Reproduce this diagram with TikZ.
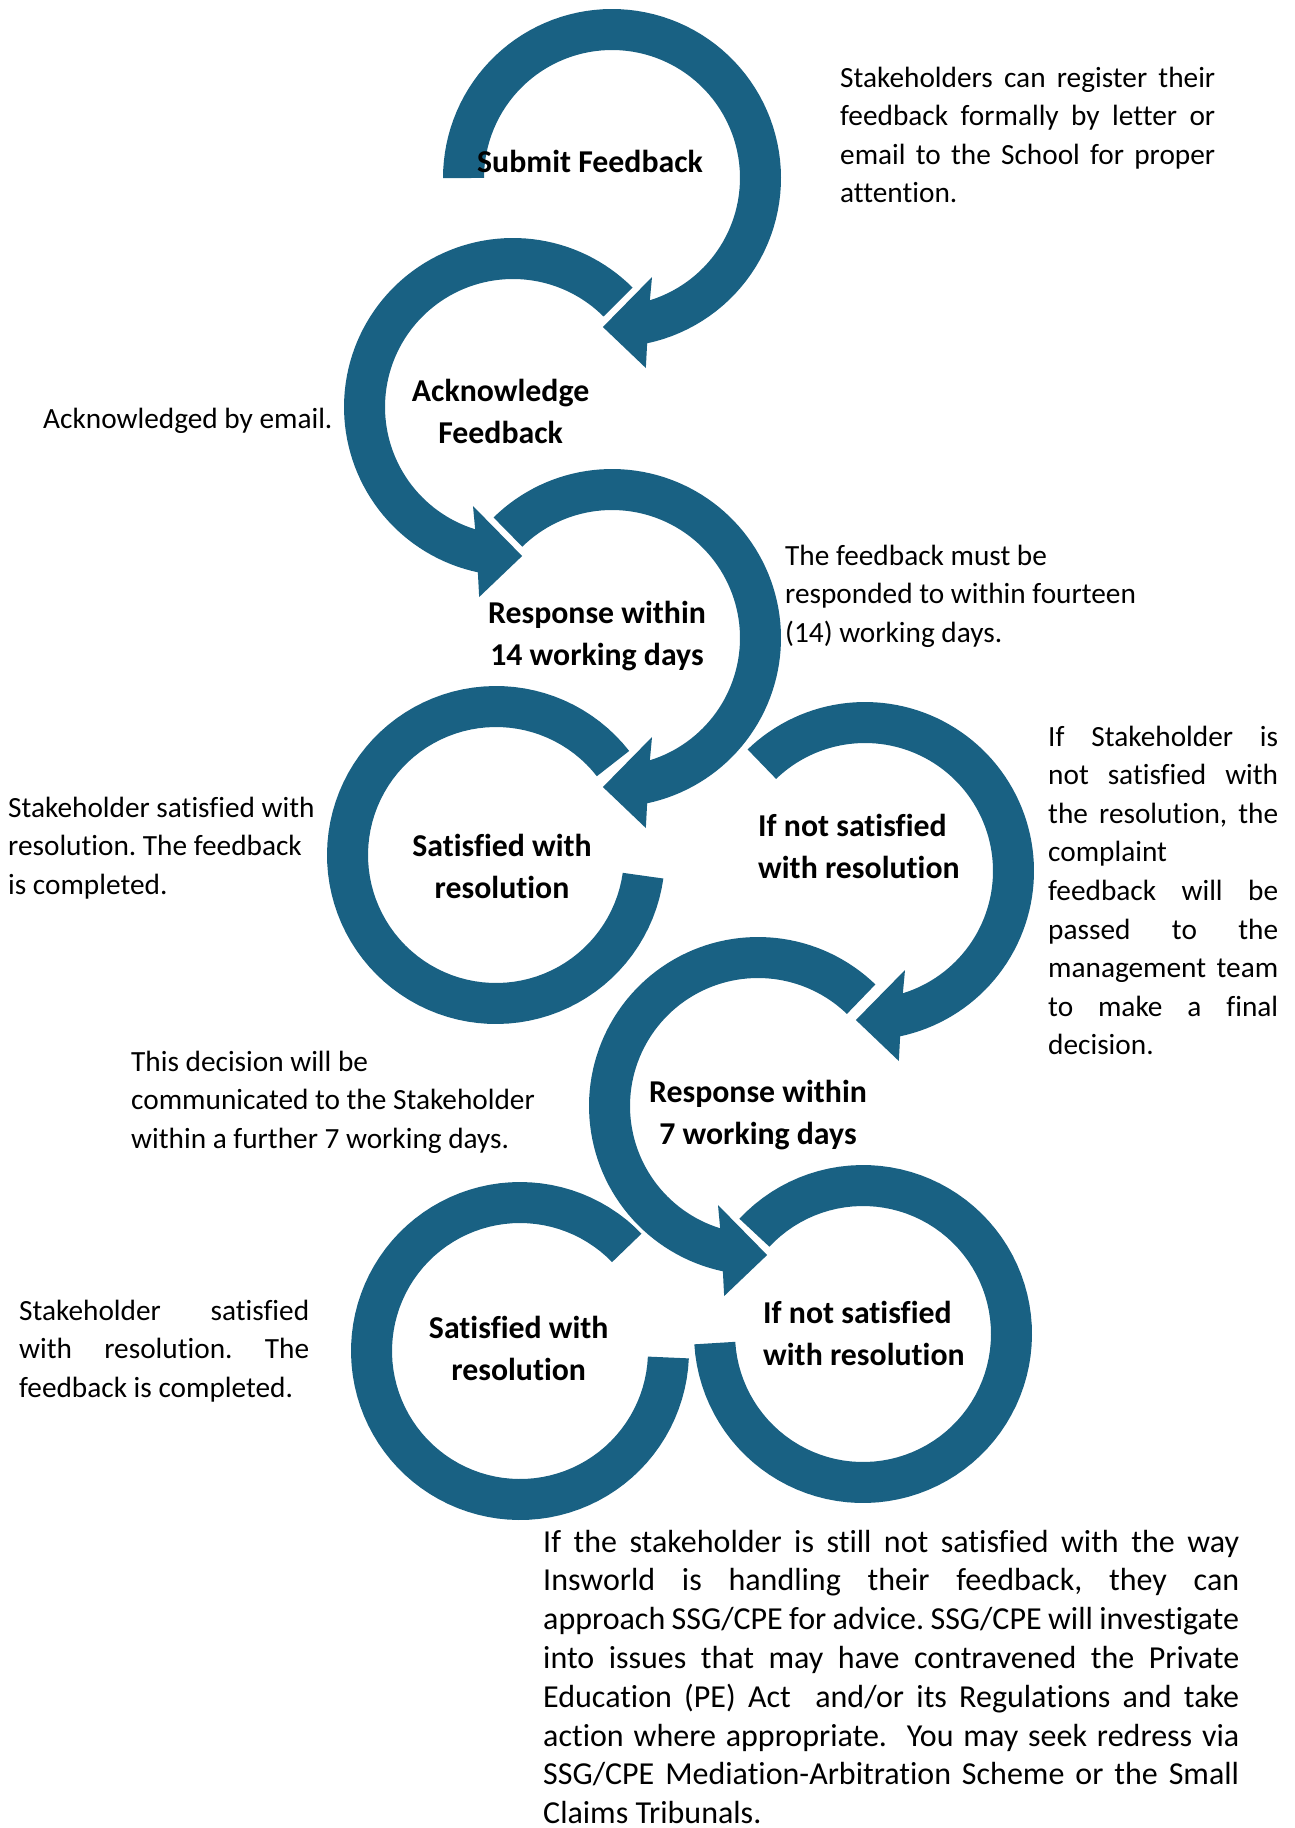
\documentclass[tikz,border=0pt]{standalone}
\usepackage{fontspec}
\setmainfont[Ligatures={NoCommon}]{Carlito}
\definecolor{ringblue}{RGB}{25,97,131}
\tikzset{
  ring/.style={fill=ringblue, preaction={draw=white, fill=none, line width=7pt, line join=round}},
  body/.style={inner sep=0pt, anchor=base west, font=\fontsize{29.3}{38.6}\selectfont},
  bodyl/.style={inner sep=0pt, anchor=base west, font=\fontsize{32}{38.8}\selectfont},
  lbl/.style={inner sep=0pt, anchor=base, font=\fontsize{31.8}{42}\selectfont\bfseries},
  lblw/.style={inner sep=0pt, anchor=base west, font=\fontsize{31.8}{42}\selectfont\bfseries},
}
% clockwise ring with arrow head: centre x, centre y, start angle
\newcommand\cwhead[3]{%
  \fill[ring] plot[domain=#3:438,samples=90] ({#1+169*cos(\x)},{#2+169*sin(\x)})
    -- ({#1+193*cos(439.9)},{#2+193*sin(439.9)})
    -- ({#1+149.3*cos(453.5)},{#2+149.3*sin(453.5)})
    -- ({#1+106.8*cos(428)},{#2+106.8*sin(428)})
    -- ({#1+128*cos(432.8)},{#2+128*sin(432.8)})
    -- plot[domain=432.8:#3,samples=90] ({#1+128*cos(\x)},{#2+128*sin(\x)}) -- cycle;}
% counter-clockwise ring with arrow head
\newcommand\ccwhead[3]{%
  \fill[ring] plot[domain=#3:102,samples=90] ({#1+169*cos(\x)},{#2+169*sin(\x)})
    -- ({#1+193*cos(100.1)},{#2+193*sin(100.1)})
    -- ({#1+149.3*cos(86.5)},{#2+149.3*sin(86.5)})
    -- ({#1+106.8*cos(112)},{#2+106.8*sin(112)})
    -- ({#1+128*cos(107.2)},{#2+128*sin(107.2)})
    -- plot[domain=107.2:#3,samples=90] ({#1+128*cos(\x)},{#2+128*sin(\x)}) -- cycle;}
% ring without head: centre x, centre y, start, end
\newcommand\plainring[4]{%
  \fill[ring] plot[domain=#3:#4,samples=90] ({#1+169*cos(\x)},{#2+169*sin(\x)})
    -- plot[domain=#4:#3,samples=90] ({#1+128*cos(\x)},{#2+128*sin(\x)}) -- cycle;}
\newcommand\jline[1]{\makebox[\linewidth][s]{#1}}
\frenchspacing
\begin{document}
\begin{tikzpicture}[x=1pt,y=-1pt]
\fill[white] (0,0) rectangle (1294,1828);
\useasboundingbox (0,0) rectangle (1294,1828);
% rings, last first so earlier heads lie on top
\plainring{863}{1334}{223}{536.5}
\plainring{520}{1351}{316}{2.5}
\ccwhead{758}{1106}{314}
\cwhead{865}{871}{226}
\plainring{496}{855}{322}{8}
\cwhead{612}{638}{225.5}
\ccwhead{513}{407}{315}
\cwhead{612}{178}{180}
% step labels
\node[lbl] (submit) at (590,172.7) {Submit Feedback};
\node[lbl] (ack) at (500.6,401.7) {\parbox[t]{300pt}{\centering Acknowledge\\Feedback}};
\node[lbl] (resp14) at (597,623.3) {\parbox[t]{300pt}{\centering Response within\\14 working days}};
\node[lbl] (sat1) at (502,856.7) {\parbox[t]{300pt}{\centering Satisfied with\\resolution}};
\node[lblw] (notsat1) at (758,836.7) {\parbox[t]{300pt}{If not satisfied\\with resolution}};
\node[lbl] (resp7) at (758,1102.7) {\parbox[t]{300pt}{\centering Response within\\7 working days}};
\node[lbl] (sat2) at (518.7,1338) {\parbox[t]{300pt}{\centering Satisfied with\\resolution}};
\node[lblw] (notsat2) at (763,1323) {\parbox[t]{300pt}{If not satisfied\\with resolution}};
% notes
\node[body] (n1) at (840,87) {\parbox[t]{375pt}{\jline{Stakeholders can register their}\\\jline{feedback formally by letter or}\\\jline{email to the School for proper}\\attention.}};
\node[body] (n2) at (43,428) {Acknowledged by email.};
\node[body] (n3) at (785,565) {\parbox[t]{360pt}{The feedback must be\\responded to within fourteen\\(14) working days.}};
\node[body] (n4) at (1048,746) {\parbox[t]{230pt}{\jline{If Stakeholder is}\\\jline{not satisfied with}\\\jline{the resolution, the}\\complaint\\\jline{feedback will be}\\\jline{passed to the}\\\jline{management team}\\\jline{to make a final}\\decision.}};
\node[body] (n5) at (8,817) {\parbox[t]{330pt}{Stakeholder satisfied with\\resolution. The feedback\\is completed.}};
\node[body] (n6) at (131,1071) {\parbox[t]{430pt}{This decision will be\\communicated to the Stakeholder\\within a further 7 working days.}};
\node[body] (n7) at (19,1320) {\parbox[t]{290pt}{\jline{Stakeholder satisfied}\\\jline{with resolution. The}\\feedback is completed.}};
\node[bodyl] (n8) at (543,1552) {\parbox[t]{696pt}{\jline{If the stakeholder is still not satisfied with the way}\\\jline{Insworld is handling their feedback, they can}\\\jline{approach SSG/CPE for advice. SSG/CPE will investigate}\\\jline{into issues that may have contravened the Private}\\\jline{Education (PE) Act\ \ and/or its Regulations and take}\\\jline{action where appropriate.\ \ You may seek redress via}\\\jline{SSG/CPE Mediation-Arbitration Scheme or the Small}\\Claims Tribunals.}};
\end{tikzpicture}
\end{document}
